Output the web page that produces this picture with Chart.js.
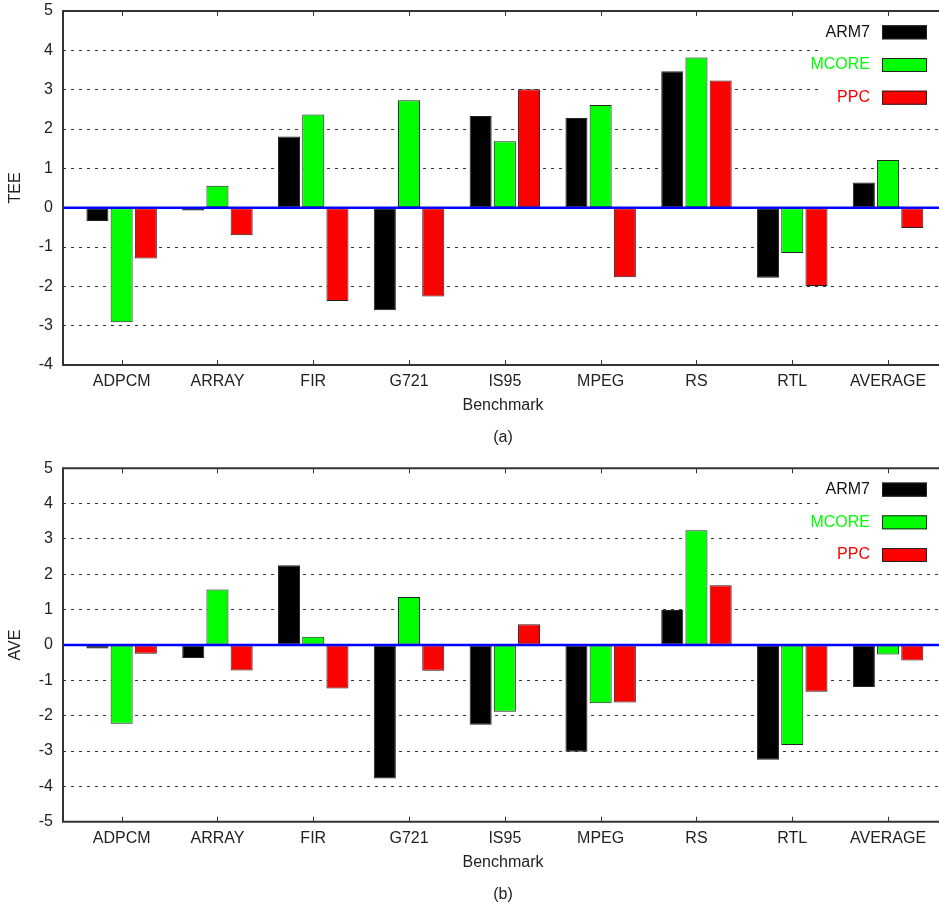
<!DOCTYPE html>
<html>
<head>
<meta charset="utf-8">
<script src="https://cdn.jsdelivr.net/npm/chart.js@4.4.1/dist/chart.umd.min.js"></script>
<style>
html,body{margin:0;padding:0;background:#fff;}
#wrap{position:relative;width:939px;height:909px;overflow:hidden;background:#fff;}
canvas{position:absolute;left:0;}
</style>
</head>
<body>
<div id="wrap">
<canvas id="c1" width="1006" height="455" style="top:0px"></canvas>
<canvas id="c2" width="1006" height="454" style="top:455px"></canvas>
</div>
<script>
// ---- data ----
const categories = ['ADPCM', 'ARRAY', 'FIR', 'G721', 'IS95', 'MPEG', 'RS', 'RTL', 'AVERAGE'];
const seriesNames = ['ARM7', 'MCORE', 'PPC'];
const seriesColors = ['#000000', '#00ff00', '#ff0000'];

const teeARM7  = [-0.34, -0.07, 1.81, -2.61, 2.33, 2.28, 3.47, -1.78, 0.64];
const teeMCORE = [-2.91, 0.56, 2.37, 2.73, 1.69, 2.61, 3.82, -1.15, 1.21];
const teePPC   = [-1.29, -0.70, -2.37, -2.26, 3.01, -1.77, 3.23, -1.99, -0.52];

const aveARM7  = [-0.10, -0.37, 2.26, -3.78, -2.26, -3.02, 0.99, -3.25, -1.19];
const aveMCORE = [-2.23, 1.57, 0.23, 1.36, -1.89, -1.65, 3.25, -2.83, -0.27];
const avePPC   = [-0.25, -0.72, -1.23, -0.73, 0.59, -1.63, 1.69, -1.32, -0.44];

const teeRange = [-4, 5];
const aveRange = [-5, 5];
const xAxisTitle = 'Benchmark';

// ---- drawing ----
const FAMILY = "'Liberation Sans', Arial, Helvetica, sans-serif";
const FONT = {family: FAMILY, size: 16, weight: 'normal'};
const TEXT = '#222222';

const framePlugin = {
  id: 'framePlugin',
  afterDatasetsDraw(chart) {
    const ctx = chart.ctx;
    const a = chart.chartArea;
    const xs = chart.scales.x, ys = chart.scales.y;
    ctx.save();
    // white legend background (breaks grid lines)
    ctx.fillStyle = '#ffffff';
    ctx.fillRect(a.left + 757, a.top + 1.5, a.right - a.left - 757, 97);
    // zero line
    const y0 = ys.getPixelForValue(0);
    ctx.strokeStyle = '#0000ff';
    ctx.lineWidth = 2.5;
    ctx.beginPath(); ctx.moveTo(a.left, y0); ctx.lineTo(a.right, y0); ctx.stroke();
    // x tick marks (inward, bottom and top)
    ctx.strokeStyle = '#333333';
    ctx.lineWidth = 1;
    xs.ticks.forEach(t => {
      const x = Math.round(xs.getPixelForValue(t.value)) + 0.5;
      ctx.beginPath();
      ctx.moveTo(x, a.bottom); ctx.lineTo(x, a.bottom - 5);
      ctx.moveTo(x, a.top); ctx.lineTo(x, a.top + 5);
      ctx.stroke();
    });
    // frame
    ctx.lineWidth = 2;
    ctx.beginPath();
    ctx.moveTo(a.right, a.top); ctx.lineTo(a.left, a.top);
    ctx.lineTo(a.left, a.bottom); ctx.lineTo(a.right, a.bottom);
    ctx.stroke();
    // legend
    ctx.font = '16px ' + FAMILY;
    ctx.textAlign = 'right';
    ctx.textBaseline = 'middle';
    chart.data.datasets.forEach((ds, i) => {
      const cy = a.top + 21.3 + 32.7 * i;
      ctx.fillStyle = ds.legendTextColor;
      ctx.fillText(ds.label, a.left + 807, cy);
      ctx.fillStyle = ds.backgroundColor;
      ctx.fillRect(a.left + 819, cy - 7, 45, 14);
      ctx.strokeStyle = '#222222';
      ctx.lineWidth = 1;
      ctx.strokeRect(a.left + 819.5, cy - 6.5, 44, 13);
    });
    ctx.restore();
  }
};

function makeChart(id, yTitle, subTitle, seriesValues, range, padTop, titlePadBottom) {
  const datasets = seriesValues.map((vals, k) => ({
    label: seriesNames[k],
    data: categories.map((c, i) => ({x: i, y: vals[i]})),
    backgroundColor: seriesColors[k],
    legendTextColor: k === 0 ? '#111111' : seriesColors[k],
    borderColor: '#222222',
    borderWidth: 1,
    borderSkipped: false,
    categoryPercentage: 0.758,
    barPercentage: 0.91
  }));
  return new Chart(document.getElementById(id), {
    type: 'bar',
    data: {datasets},
    plugins: [framePlugin],
    options: {
      responsive: false,
      animation: false,
      devicePixelRatio: 1,
      layout: {padding: {top: padTop, left: 0, right: 0, bottom: 0}},
      plugins: {
        legend: {display: false},
        tooltip: {enabled: false},
        subtitle: {
          display: true, position: 'bottom', text: xAxisTitle,
          font: FONT, color: TEXT,
          padding: {top: 1.4, bottom: 12.8}
        },
        title: {
          display: true, position: 'bottom', text: subTitle,
          font: FONT, color: TEXT,
          padding: {top: 0, bottom: titlePadBottom}
        }
      },
      scales: {
        x: {
          type: 'linear',
          offset: false,
          min: -0.612, max: 9.231,
          afterBuildTicks: s => { s.ticks = categories.map((c, i) => ({value: i})); },
          ticks: {
            callback: v => categories[v] !== undefined ? categories[v] : '',
            autoSkip: false, maxRotation: 0, minRotation: 0,
            padding: 7, font: FONT, color: TEXT
          },
          grid: {display: false, drawTicks: false, offset: false},
          border: {display: false},
          title: {display: false},
          afterFit: s => { s.height = 30; s.paddingLeft = 0; s.paddingRight = 0; }
        },
        y: {
          min: range[0], max: range[1],
          ticks: {stepSize: 1, padding: 10, font: FONT, color: TEXT},
          grid: {
            drawTicks: false,
            lineWidth: 1,
            color: c => (c.tick && (c.tick.value === 0 || c.tick.value === range[0] || c.tick.value === range[1])) ? 'rgba(0,0,0,0)' : '#333333'
          },
          border: {display: false, dash: [3, 5]},
          title: {display: true, text: yTitle, font: FONT, color: TEXT, padding: {top: 6.4, bottom: 0}},
          afterFit: s => { s.width = 63; s.paddingTop = 0; s.paddingBottom = 0; }
        }
      }
    }
  });
}

makeChart('c1', 'TEE', '(a)', [teeARM7, teeMCORE, teePPC], teeRange, 11, 7.4);
makeChart('c2', 'AVE', '(b)', [aveARM7, aveMCORE, avePPC], aveRange, 13.3, 4.7);
</script>
</body>
</html>
